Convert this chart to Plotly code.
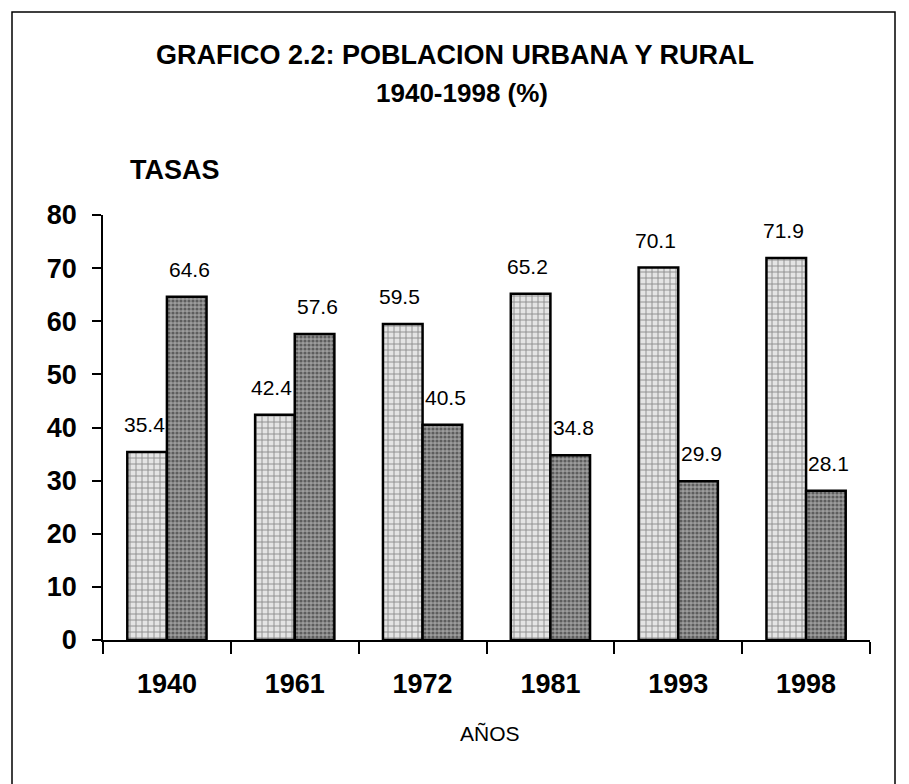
import plotly.graph_objects as go

years = ["1940", "1961", "1972", "1981", "1993", "1998"]
urbana = [35.4, 42.4, 59.5, 65.2, 70.1, 71.9]
rural = [64.6, 57.6, 40.5, 34.8, 29.9, 28.1]
y_ticks = [0, 10, 20, 30, 40, 50, 60, 70, 80]

FONT = "Liberation Sans, Arial, sans-serif"

# page has an 8px body margin, so the figure is a bit smaller than the window
W, H = 901, 776
OFF = 8
# plot area edges in page pixels
L, R, T, B = 103, 870, 215, 640


def px_x(p):
    return (p - L) / (R - L)


def px_y(p):
    return (B - p) / (B - T)


bargap = 0.38
bar_w = (R - L) / len(years) * (1 - bargap) / 2

fig = go.Figure()
fig.add_trace(go.Bar(
    x=years, y=urbana, name="Urbana",
    marker=dict(color="#d0d0d0", line=dict(color="black", width=2.5),
                pattern=dict(shape="+", fgcolor="#3a3a3a", bgcolor="#e4e4e4", size=6, solidity=0.3)),
))
fig.add_trace(go.Bar(
    x=years, y=rural, name="Rural",
    marker=dict(color="#7a7a7a", line=dict(color="black", width=2.5),
                pattern=dict(shape=".", fgcolor="#1e1e1e", bgcolor="#9c9c9c", size=4, solidity=0.5)),
))

annotations = []
for i, (u, r) in enumerate(zip(urbana, rural)):
    annotations.append(dict(x=i, y=u, text=f"{u:.1f}", xshift=-bar_w / 2 - 3, yshift=14,
                            yanchor="bottom", xanchor="center", showarrow=False,
                            font=dict(size=21, family=FONT)))
    annotations.append(dict(x=i, y=r, text=f"{r:.1f}", xshift=bar_w / 2 + 3, yshift=14,
                            yanchor="bottom", xanchor="center", showarrow=False,
                            font=dict(size=21, family=FONT)))

annotations += [
    dict(text="<b>GRAFICO 2.2: POBLACION URBANA Y RURAL</b>", x=px_x(455), y=px_y(55),
         xref="paper", yref="paper", showarrow=False, xanchor="center", yanchor="middle",
         font=dict(size=27, family=FONT)),
    dict(text="<b>1940-1998 (%)</b>", x=px_x(462), y=px_y(93),
         xref="paper", yref="paper", showarrow=False, xanchor="center", yanchor="middle",
         font=dict(size=26, family=FONT)),
    dict(text="<b>TASAS</b>", x=px_x(128), y=px_y(170),
         xref="paper", yref="paper", showarrow=False, xanchor="left", yanchor="middle",
         font=dict(size=27, family=FONT)),
    dict(text="AÑOS", x=px_x(490), y=px_y(733),
         xref="paper", yref="paper", showarrow=False, xanchor="center", yanchor="middle",
         font=dict(size=21, family=FONT)),
]

fig.update_layout(
    width=W, height=H,
    margin=dict(l=L - OFF, r=W - (R - OFF), t=T - OFF, b=H - (B - OFF)),
    paper_bgcolor="white", plot_bgcolor="white",
    barmode="group", bargap=bargap, bargroupgap=0,
    showlegend=False,
    font=dict(family=FONT, color="black"),
    xaxis=dict(
        type="category", range=[-0.5, len(years) - 0.5],
        showline=True, linecolor="black", linewidth=1.5,
        ticks="outside", tickson="boundaries", ticklen=12, tickcolor="black", tickwidth=1.5,
        tickfont=dict(size=27, family=FONT, weight="bold"),
        tickangle=0,
        ticklabelstandoff=19,
    ),
    yaxis=dict(
        range=[0, 80], tickvals=y_ticks,
        showline=True, linecolor="black", linewidth=1.5,
        ticks="outside", ticklen=9, tickcolor="black", tickwidth=1.5,
        tickfont=dict(size=27, family=FONT, weight="bold"),
        ticklabelstandoff=10,
        showgrid=False, zeroline=False,
    ),
    annotations=annotations,
    shapes=[
        dict(type="rect", xref="paper", yref="paper",
             x0=px_x(12), x1=px_x(895), y0=px_y(800), y1=px_y(12),
             line=dict(color="black", width=1.5)),
    ],
)

fig.write_html("out.html")
